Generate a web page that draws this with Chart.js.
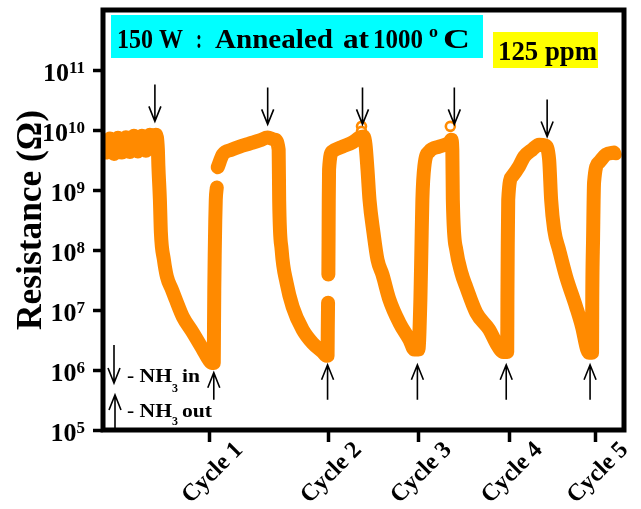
<!DOCTYPE html>
<html>
<head>
<meta charset="utf-8">
<script src="https://cdn.jsdelivr.net/npm/chart.js@4.4.1/dist/chart.umd.min.js"></script>
<style>
  html,body{margin:0;padding:0;background:#fff;}
  #c{display:block;}
</style>
</head>
<body>
<canvas id="c" width="641" height="509"></canvas>
<script>
// time axis (s) and resistance (ohm); null = gap in the trace
const times = [30,70,110,150,190,230,270,310,350,390,430,470,510,530,
  550,555,570,580,610,640,690,730,800,900,1000,1060,1090,
  1110,1112,1115,1120,1125,1130,1140,1145,
  1150,1200,1290,1370,1470,1570,1650,1720,
  1760,1765,1790,1840,1900,2000,2100,2200,2240,
  2250,2252,2255,2256,2258,2260,2262,2265,2300,2400,2500,2570,2610,
  2630,2650,2670,2710,2750,2800,2870,2970,3070,3120,
  3160,3180,3190,3200,3220,3270,3370,3470,3490,
  3500,3505,3540,3590,3640,3740,3870,3940,4010,
  4050,4052,4055,4060,4100,4170,4220,4300,4370,4430,
  4470,4490,4520,4570,4640,4740,4800,4850,4870,
  4900,4902,4910,4920,4970,5040,5120];
const resistance = [4.2e9,7.2e9,4.0e9,7.4e9,4.2e9,7.6e9,4.3e9,8.0e9,4.4e9,8.0e9,4.5e9,8.3e9,5.0e9,8.3e9,
  4.7e9,2.5e9,6.9e8,1.95e8,6.9e7,3.6e7,2.2e7,1.48e7,7.7e6,4.2e6,2.2e6,1.48e6,1.31e6,
  1.31e6,4.7e6,2.2e7,1.0e8,3.2e8,6.9e8,1.1e9,null,
  2.4e9,3.9e9,4.7e9,5.3e9,5.96e9,6.7e9,7.5e9,6.9e9,
  4.7e9,6.9e8,1.0e8,2.8e7,1.13e7,4.7e6,2.8e6,2.0e6,1.72e6,
  1.72e6,4.7e6,1.32e7,null,3.9e7,1.49e8,6.9e8,2.2e9,4.4e9,5.3e9,6.2e9,7.5e9,7.8e9,
  5.7e9,2.2e9,6.9e8,1.95e8,6.9e7,3.9e7,1.48e7,6.1e6,3.2e6,2.2e6,
  2.2e6,1.48e7,1.0e8,6.9e8,2.5e9,4.4e9,5.3e9,6.2e9,6.9e9,
  4.7e9,6.9e8,1.0e8,4.2e7,2.4e7,9.0e6,4.7e6,2.8e6,2.0e6,
  2.0e6,1.48e7,1.0e8,6.9e8,1.7e9,2.5e9,3.6e9,4.7e9,5.7e9,5.5e9,
  3.2e9,6.9e8,2.2e8,1.0e8,3.6e7,1.13e7,5.2e6,2.2e6,1.93e6,
  1.93e6,1.48e7,1.49e8,1.33e9,2.9e9,3.9e9,4.2e9];
// isolated open-circle readings
const markTimes = [1140,2255,2590,2590,3480,5140];
const markRes = [1.1e9,1.32e7,1.15e10,9.5e9,1.15e10,3.9e9];

const cycleTimes = [1070,2260,3160,4070,4930];
const cycleLabels = ['Cycle 1','Cycle 2','Cycle 3','Cycle 4','Cycle 5'];
const yTicks = [1e5,1e6,1e7,1e8,1e9,1e10,1e11];

// NH3 in (down arrows) / out (up arrows): time and resistance at the arrow tip
const inTimes = [520,1650,2600,3520,4450];
const inRes = [1.39e10,1.24e10,1.24e10,1.24e10,7.8e9];
const outTimes = [1110,2250,3150,4040,4880];
const outRes = [9.0e5,1.22e6,1.22e6,1.22e6,1.22e6];

const ORANGE = '#ff8a00';
const SERIF = '"Liberation Serif", "Times New Roman", serif';

function fitText(c, txt, x0, x1, y, font){
  c.font = font;
  const w = c.measureText(txt).width;
  c.save();
  c.translate(x0, y);
  c.scale((x1 - x0) / w, 1);
  c.textAlign = 'left';
  c.textBaseline = 'alphabetic';
  c.fillText(txt, 0, 0);
  c.restore();
}

function arrow(c, x, tip, tail){
  const dir = tail < tip ? -1 : 1; // -1: pointing down
  c.beginPath();
  c.moveTo(x, tail); c.lineTo(x, tip);
  c.moveTo(x - 6, tip + dir * 15); c.lineTo(x, tip); c.lineTo(x + 6, tip + dir * 15);
  c.stroke();
}

const decor = {
  id: 'decor',
  afterDraw(chart){
    const c = chart.ctx, a = chart.chartArea;
    const xs = chart.scales.x, ys = chart.scales.y;
    c.save();
    // frame
    c.strokeStyle = '#000';
    c.lineWidth = 5;
    c.strokeRect(a.left, a.top, a.right - a.left, a.bottom - a.top);

    c.fillStyle = '#000';
    // y tick labels 10^n
    yTicks.forEach(v => {
      const py = ys.getPixelForValue(v);
      const e = String(Math.round(Math.log10(v)));
      c.font = 'bold 17px ' + SERIF;
      const ew = c.measureText(e).width;
      c.textAlign = 'right';
      c.textBaseline = 'alphabetic';
      c.fillText(e, 85, py + 2.5);
      c.font = 'bold 26px ' + SERIF;
      c.fillText('10', 85 - ew, py + 11);
    });
    // x tick labels
    c.font = 'bold 24px ' + SERIF;
    c.textAlign = 'center';
    c.textBaseline = 'middle';
    cycleTimes.forEach((t, i) => {
      c.save();
      c.translate(xs.getPixelForValue(t) + 3, 473);
      c.rotate(-Math.PI / 4);
      c.fillText(cycleLabels[i], 0, 0);
      c.restore();
    });
    // y axis title
    c.save();
    c.translate(41, 330);
    c.rotate(-Math.PI / 2);
    fitText(c, 'Resistance (\u03A9)', 0, 220, 0, 'bold 36px ' + SERIF);
    c.restore();

    // labels in boxes
    c.fillStyle = '#00ffff';
    c.fillRect(111, 15, 372, 43);
    c.fillStyle = '#ffff00';
    c.fillRect(493, 32, 105, 36);
    c.fillStyle = '#000';
    const f26 = 'bold 27px ' + SERIF;
    fitText(c, '150 W', 117, 183, 47.5, f26);
    fitText(c, ':', 196, 202, 47.5, f26);
    fitText(c, 'Annealed', 215, 333, 47.5, f26);
    fitText(c, 'at', 343, 369, 47.5, f26);
    fitText(c, '1000', 373, 423, 47.5, f26);
    fitText(c, 'o', 429, 438, 37, 'bold 17px ' + SERIF);
    fitText(c, 'C', 443, 470, 47.5, 'bold 28px ' + SERIF);
    fitText(c, '125 ppm', 498, 597, 60, 'bold 28px ' + SERIF);

    // arrows
    c.strokeStyle = '#000';
    c.lineWidth = 1.6;
    inTimes.forEach((t, i) => {
      const tip = ys.getPixelForValue(inRes[i]);
      arrow(c, xs.getPixelForValue(t), tip, tip - 37);
    });
    outTimes.forEach((t, i) => {
      const tip = ys.getPixelForValue(outRes[i]);
      arrow(c, xs.getPixelForValue(t), tip, tip + (i === 0 ? 27 : 35));
    });

    // key
    arrow(c, 114, 383, 345);
    arrow(c, 115, 395, 430);
    const f18 = 'bold 19px ' + SERIF;
    fitText(c, '- NH', 127, 172, 381.7, f18);
    fitText(c, '3', 172, 178, 392, 'bold 13px ' + SERIF);
    fitText(c, 'in', 182, 200, 381.7, f18);
    fitText(c, '- NH', 127, 172, 416.7, f18);
    fitText(c, '3', 172, 178, 425, 'bold 13px ' + SERIF);
    fitText(c, 'out', 182, 212, 416.7, f18);
    c.restore();
  }
};

new Chart(document.getElementById('c'), {
  type: 'scatter',
  data: {
    datasets: [
      {
        data: times.map((t, i) => ({x: t, y: resistance[i]})),
        showLine: true,
        spanGaps: false,
        cubicInterpolationMode: 'monotone',
        borderColor: ORANGE,
        borderWidth: 14,
        borderJoinStyle: 'round',
        borderCapStyle: 'round',
        pointRadius: 0,
        clip: 0
      },
      {
        data: markTimes.map((t, i) => ({x: t, y: markRes[i]})),
        showLine: false,
        pointRadius: 4.5,
        pointBorderWidth: 2.6,
        pointBorderColor: ORANGE,
        pointBackgroundColor: '#fff'
      }
    ]
  },
  options: {
    responsive: false,
    animation: false,
    layout: {padding: {top: 10, right: 17, left: 0, bottom: 0}},
    plugins: {legend: {display: false}, tooltip: {enabled: false}},
    scales: {
      x: {
        type: 'linear',
        min: 0,
        max: 5220,
        afterBuildTicks: s => { s.ticks = cycleTimes.map(v => ({value: v})); },
        afterFit: s => { s.height = 79; },
        grid: {drawOnChartArea: false, drawTicks: true, tickLength: 12, tickWidth: 3.5, tickColor: '#000'},
        border: {display: false},
        ticks: {display: false}
      },
      y: {
        type: 'logarithmic',
        min: 1e5,
        max: 1e12,
        afterBuildTicks: s => { s.ticks = yTicks.map(v => ({value: v})); },
        afterFit: s => { s.width = 103; },
        grid: {drawOnChartArea: false, drawTicks: true, tickLength: 10, tickWidth: 3.5, tickColor: '#000'},
        border: {display: false},
        ticks: {display: false}
      }
    }
  },
  plugins: [decor]
});
</script>
</body>
</html>
